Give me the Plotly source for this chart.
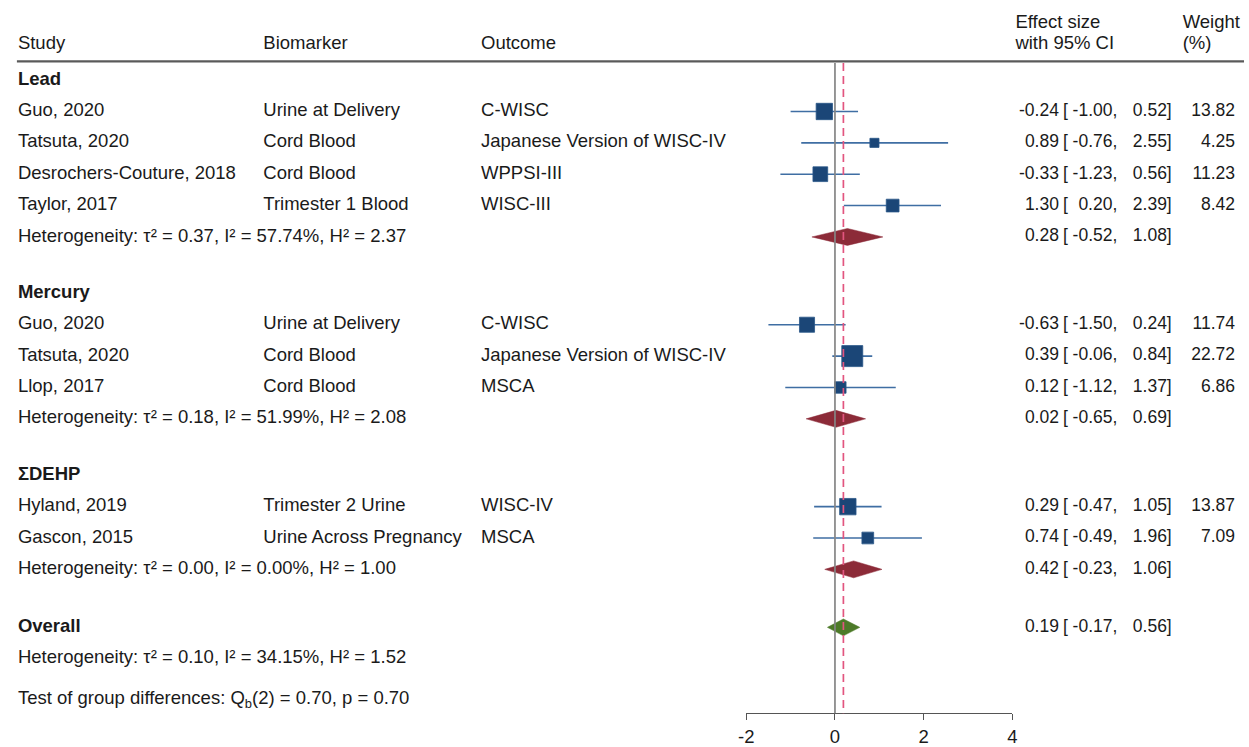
import math
import plotly.graph_objects as go

# ---------------- data ----------------
groups = ["Lead", "Mercury", "ΣDEHP"]
study_group = ["Lead", "Lead", "Lead", "Lead", "Mercury", "Mercury", "Mercury", "ΣDEHP", "ΣDEHP"]
study = ["Guo, 2020", "Tatsuta, 2020", "Desrochers-Couture, 2018", "Taylor, 2017",
         "Guo, 2020", "Tatsuta, 2020", "Llop, 2017",
         "Hyland, 2019", "Gascon, 2015"]
biomarker = ["Urine at Delivery", "Cord Blood", "Cord Blood", "Trimester 1 Blood",
             "Urine at Delivery", "Cord Blood", "Cord Blood",
             "Trimester 2 Urine", "Urine Across Pregnancy"]
outcome = ["C-WISC", "Japanese Version of WISC-IV", "WPPSI-III", "WISC-III",
           "C-WISC", "Japanese Version of WISC-IV", "MSCA",
           "WISC-IV", "MSCA"]
es = [-0.24, 0.89, -0.33, 1.30, -0.63, 0.39, 0.12, 0.29, 0.74]
lo = [-1.00, -0.76, -1.23, 0.20, -1.50, -0.06, -1.12, -0.47, -0.49]
hi = [0.52, 2.55, 0.56, 2.39, 0.24, 0.84, 1.37, 1.05, 1.96]
weight = [13.82, 4.25, 11.23, 8.42, 11.74, 22.72, 6.86, 13.87, 7.09]

group_es = [0.28, 0.02, 0.42]
group_lo = [-0.52, -0.65, -0.23]
group_hi = [1.08, 0.69, 1.06]
group_tau2 = ["0.37", "0.18", "0.00"]
group_i2 = ["57.74", "51.99", "0.00"]
group_h2 = ["2.37", "2.08", "1.00"]

overall_es, overall_lo, overall_hi = 0.19, -0.17, 0.56
overall_tau2, overall_i2, overall_h2 = "0.10", "34.15", "1.52"
test_text = "Test of group differences: Q<sub>b</sub>(2) = 0.70, p = 0.70"

x_ticks = [-2, 0, 2, 4]
x_ticklabels = ["-2", "0", "2", "4"]

# ---------------- layout helpers ----------------
W, H = 1249, 747
FONT = "Liberation Sans, Arial, Helvetica, sans-serif"
FS = 18.5
FS_NUM = 17.5
TXT = "#1a1a1a"
ROW_PX, ROW0_PX = 31.7, 81.0

r = 0.0
study_rows, het_rows, group_head_rows = [], [], []
si = 0
for gi, g in enumerate(groups):
    group_head_rows.append(r)
    r += 1
    while si < len(study) and study_group[si] == g:
        study_rows.append(r)
        r += 1
        si += 1
    het_rows.append(r)
    if gi < len(groups) - 1:
        r += 1.8
overall_row = r + 1.85
overall_het_row = overall_row + 1.0
test_row = overall_het_row + 1.3
header_line_row = -0.6
header1_row = -1.80
header2_row = -1.14
axis_row = (721 - ROW0_PX) / ROW_PX

fig = go.Figure()

# CI lines
cx, cy = [], []
for a, b, yy in zip(lo, hi, study_rows):
    cx += [a, b, None]
    cy += [yy, yy, None]
fig.add_trace(go.Scatter(x=cx, y=cy, mode="lines", xaxis="x2", yaxis="y",
                         line=dict(color="#3f6ea3", width=1.6), hoverinfo="skip"))
# squares
fig.add_trace(go.Scatter(x=es, y=study_rows, mode="markers", xaxis="x2", yaxis="y",
                         marker=dict(symbol="square", size=[4.4 * math.sqrt(w) for w in weight],
                                     opacity=1, color="#1b4677",
                                     line=dict(width=0.8, color="#2a5788")),
                         hoverinfo="skip"))

HALF = 0.27
def diamond(e, a, b, yy, color):
    fig.add_trace(go.Scatter(x=[a, e, b, e, a], y=[yy, yy - HALF, yy, yy + HALF, yy],
                             mode="lines", fill="toself", fillcolor=color, xaxis="x2", yaxis="y",
                             line=dict(color=color, width=0.5), hoverinfo="skip"))

for e, a, b, yy in zip(group_es, group_lo, group_hi, het_rows):
    diamond(e, a, b, yy, "#8c2b38")
diamond(overall_es, overall_lo, overall_hi, overall_row, "#4d7a28")

# vertical lines
fig.add_shape(type="line", xref="x2", yref="y", x0=0, x1=0, y0=header_line_row + 0.05, y1=axis_row,
              line=dict(color="#858585", width=1.7))
fig.add_shape(type="line", xref="x2", yref="y", x0=overall_es, x1=overall_es,
              y0=header_line_row + 0.05, y1=axis_row,
              line=dict(color="#e2557f", width=1.7, dash="8px,5px"))
# header line
fig.add_shape(type="line", xref="x", yref="y", x0=9, x1=W, y0=header_line_row, y1=header_line_row,
              line=dict(color="#5a5a5a", width=2.2))

# ---------------- text columns (scatter text on a pixel-unit x axis) ----------------
buckets = {}

def text(x, y, s, anchor="left", bold=False, num=False):
    s = ("<b>%s</b>" % s) if bold else s
    key = (anchor, num)
    b = buckets.setdefault(key, ([], [], []))
    b[0].append(x); b[1].append(y); b[2].append(s)

COL_STUDY, COL_BIO, COL_OUT = 10, 258, 478
EST_R, BR_L, LO_R, HI_R, WT_R = 1062, 1066, 1121, 1176, 1240

text(COL_STUDY, header2_row, "Study")
text(COL_BIO, header2_row, "Biomarker")
text(COL_OUT, header2_row, "Outcome")
text(1018, header1_row, "Effect size")
text(1018, header2_row, "with 95% CI")
text(1187, header1_row, "Weight")
text(1187, header2_row, "(%)")

def effect_cols(e, a, b, yy):
    text(EST_R, yy, "%.2f" % e, anchor="right", num=True)
    text(BR_L, yy, "[", anchor="left", num=True)
    text(LO_R, yy, "%.2f," % a, anchor="right", num=True)
    text(HI_R, yy, "%.2f]" % b, anchor="right", num=True)

for gi, g in enumerate(groups):
    text(COL_STUDY, group_head_rows[gi], g, bold=True)
    text(COL_STUDY, het_rows[gi], "Heterogeneity: τ² = %s, I² = %s%%, H² = %s"
         % (group_tau2[gi], group_i2[gi], group_h2[gi]))
    effect_cols(group_es[gi], group_lo[gi], group_hi[gi], het_rows[gi])

for i in range(len(study)):
    yy = study_rows[i]
    text(COL_STUDY, yy, study[i])
    text(COL_BIO, yy, biomarker[i])
    text(COL_OUT, yy, outcome[i])
    effect_cols(es[i], lo[i], hi[i], yy)
    text(WT_R, yy, "%.2f" % weight[i], anchor="right", num=True)

text(COL_STUDY, overall_row, "Overall", bold=True)
effect_cols(overall_es, overall_lo, overall_hi, overall_row)
text(COL_STUDY, overall_het_row, "Heterogeneity: τ² = %s, I² = %s%%, H² = %s"
     % (overall_tau2, overall_i2, overall_h2))
text(COL_STUDY, test_row, test_text)

for (anchor, num), (bx, by, bt) in buckets.items():
    fig.add_trace(go.Scatter(
        x=bx, y=by, text=bt, mode="text",
        textposition="middle right" if anchor == "left" else "middle left",
        textfont=dict(family=FONT, size=FS_NUM if num else FS, color=TXT),
        cliponaxis=False, hoverinfo="skip", xaxis="x", yaxis="y"))

y_top = -ROW0_PX / ROW_PX
y_bot = (H - ROW0_PX) / ROW_PX

fig.update_layout(
    width=W, height=H, margin=dict(l=0, r=0, t=0, b=0),
    paper_bgcolor="white", plot_bgcolor="white", showlegend=False,
    xaxis=dict(visible=False, domain=[0, 1], range=[0, W]),
    xaxis2=dict(domain=[746 / W, 1015 / W], range=[-2, 4], anchor="free",
                position=1 - 721 / H, showline=True, linecolor="#555555", linewidth=1.4,
                ticks="outside", ticklen=6, tickcolor="#555555", tickwidth=1.4,
                tickmode="array", tickvals=x_ticks, ticktext=x_ticklabels,
                showgrid=False, zeroline=False,
                tickfont=dict(family=FONT, size=FS, color=TXT)),
    yaxis=dict(visible=False, domain=[0, 1], range=[y_bot, y_top]),
)

fig.write_html("out.html", config={"displayModeBar": False},
               post_script="document.body.style.margin='0';document.body.style.overflow='hidden';")
